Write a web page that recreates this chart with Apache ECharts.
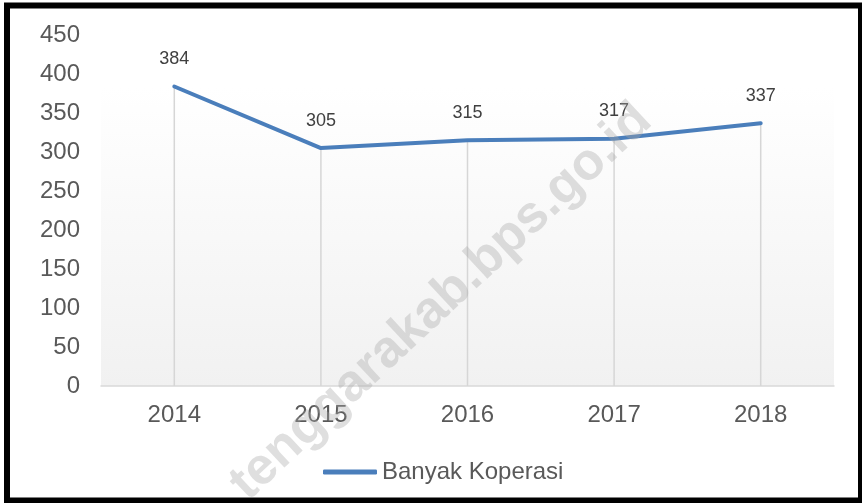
<!DOCTYPE html>
<html>
<head>
<meta charset="utf-8">
<script src="https://cdn.jsdelivr.net/npm/echarts@6/dist/echarts.min.js"></script>
<style>html,body{margin:0;padding:0;background:#fff}#c{width:862px;height:503px}</style>
</head>
<body>
<div id="c"></div>
<script>
const categories = ['2014', '2015', '2016', '2017', '2018'];
const koperasi = [384, 305, 315, 317, 337];
const seriesName = 'Banyak Koperasi';
const watermark = 'tenggarakab.bps.go.id';

const chart = echarts.init(document.getElementById('c'), null, {renderer: 'canvas'});
const font = '"Liberation Sans", Arial, sans-serif';
chart.setOption({
  animation: false,
  backgroundColor: '#ffffff',
  grid: {
    left: 101, right: 28, top: 35, bottom: 117,
    show: true, borderWidth: 0,
    backgroundColor: {type: 'linear', x: 0, y: 0, x2: 0, y2: 1,
      colorStops: [{offset: 0, color: '#ffffff'}, {offset: 0.15, color: '#ffffff'}, {offset: 1, color: '#f1f1f1'}]}
  },
  legend: {
    data: [seriesName], left: 318, top: 455,
    icon: 'roundRect', itemWidth: 54, itemHeight: 5,
    textStyle: {fontFamily: font, fontSize: 24, color: '#595959'}
  },
  xAxis: {
    type: 'category', data: categories, boundaryGap: true,
    axisLine: {lineStyle: {color: '#d9d9d9', width: 1.5}},
    axisTick: {show: false},
    axisLabel: {fontFamily: font, fontSize: 24, color: '#595959', margin: 17},
    splitLine: {show: false}
  },
  yAxis: {
    type: 'value', min: 0, max: 450, interval: 50,
    axisLine: {show: false}, axisTick: {show: false}, splitLine: {show: false},
    axisLabel: {fontFamily: font, fontSize: 24, color: '#595959', margin: 21}
  },
  series: [
    {
      type: 'bar', name: 'drop', data: koperasi, barWidth: 1.5, silent: true,
      itemStyle: {color: '#d6d6d6'}, z: 1, legendHoverLink: false
    },
    {
      type: 'line', name: seriesName, data: koperasi, symbol: 'circle', symbolSize: 1, showSymbol: true, z: 3,
      lineStyle: {color: '#4a7ebb', width: 4, cap: 'round'},
      itemStyle: {color: '#4a7ebb'},
      label: {show: true, position: 'top', distance: 18, fontFamily: font, fontSize: 18, color: '#404040'}
    }
  ],
  graphic: [
    {
      type: 'text', x: 441, y: 302, rotation: 43 * Math.PI / 180, z: 100, silent: true,
      style: {text: watermark, x: 0, y: 0, align: 'center', verticalAlign: 'middle',
        font: 'bold 52px "Liberation Sans", Arial, sans-serif', fill: 'rgba(165,165,165,0.36)'}
    },
    {
      type: 'rect', z: 101, silent: true,
      shape: {x: 7, y: 5.5, width: 854, height: 495},
      style: {fill: 'none', stroke: '#000000', lineWidth: 6}
    }
  ]
});
</script>
</body>
</html>
